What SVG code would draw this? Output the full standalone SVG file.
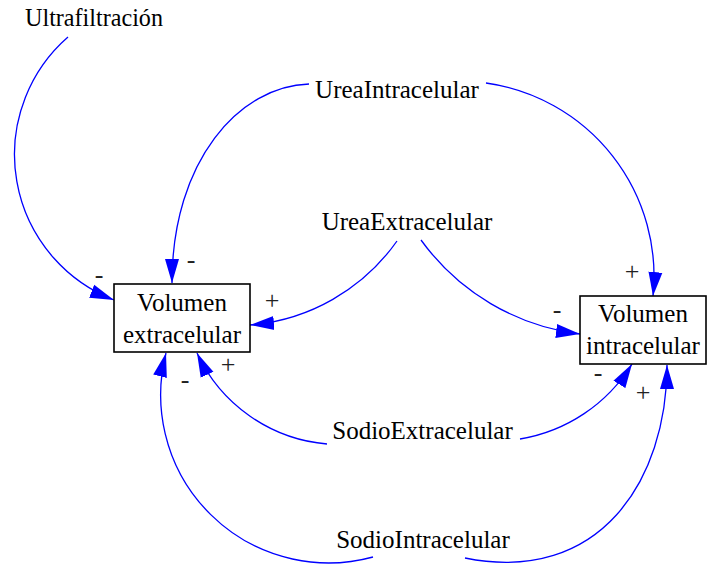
<svg xmlns="http://www.w3.org/2000/svg" width="707" height="565" viewBox="0 0 707 565">
  <style>
    .lbl { font-family: "Liberation Serif", "Times New Roman", serif; font-size: 25px; fill: #000; text-anchor: middle; }
    .sign { font-family: "Liberation Serif", "Times New Roman", serif; font-size: 26px; fill: #222; text-anchor: middle; }
    .box { fill: #fff; stroke: #000; stroke-width: 1.6; }
    .link { fill: none; stroke: #0000ff; stroke-width: 1.3; marker-end: url(#head); }
  </style>
  <defs>
    <marker id="head" markerUnits="userSpaceOnUse" markerWidth="24" markerHeight="16" viewBox="0 0 24 16" refX="24" refY="8" orient="auto">
      <path d="M0,1 L24,8 L0,15 z" fill="#0000ff"/>
    </marker>
  </defs>

  <rect width="707" height="565" fill="#fff"/>

  <!-- causal links -->
  <g id="links">
    <path class="link" d="M68,37 A156,156 0 0 0 114,300"/>
    <path class="link" d="M309,84 C240,86 172,160 172,283"/>
    <path class="link" d="M486,83 A195,195 0 0 1 653,296"/>
    <path class="link" d="M397,241 A200,200 0 0 1 250,325"/>
    <path class="link" d="M421,240 A231,231 0 0 0 580,334"/>
    <path class="link" d="M327,444 A158,158 0 0 1 197,353"/>
    <path class="link" d="M520,439 A162.5,162.5 0 0 0 632,364"/>
    <path class="link" d="M373,557 A168,168 0 0 1 166,353"/>
    <path class="link" d="M465,558 C600,585 667,480 667,365"/>
  </g>

  <!-- polarity signs -->
  <g id="signs">
    <text class="sign" x="99" y="283">-</text>
    <text class="sign" x="191" y="268">-</text>
    <text class="sign" x="272" y="309">+</text>
    <text class="sign" x="228" y="373">+</text>
    <text class="sign" x="185" y="388">-</text>
    <text class="sign" x="632" y="280">+</text>
    <text class="sign" x="557" y="318">-</text>
    <text class="sign" x="598" y="381">-</text>
    <text class="sign" x="643" y="401">+</text>
  </g>

  <!-- variables -->
  <g id="ultrafiltracion"><text class="lbl" x="94" y="26" textLength="138" lengthAdjust="spacingAndGlyphs">Ultrafiltración</text></g>
  <g id="urea-intracelular"><text class="lbl" x="397" y="98">UreaIntracelular</text></g>
  <g id="urea-extracelular"><text class="lbl" x="407" y="230">UreaExtracelular</text></g>
  <g id="sodio-extracelular"><text class="lbl" x="422.5" y="439">SodioExtracelular</text></g>
  <g id="sodio-intracelular"><text class="lbl" x="423" y="548">SodioIntracelular</text></g>

  <g id="volumen-extracelular">
    <rect class="box" x="114" y="284" width="136" height="68"/>
    <text class="lbl" x="182" y="311">Volumen</text>
    <text class="lbl" x="182" y="343">extracelular</text>
  </g>
  <g id="volumen-intracelular">
    <rect class="box" x="580" y="296" width="126" height="68"/>
    <text class="lbl" x="643" y="322">Volumen</text>
    <text class="lbl" x="643" y="354">intracelular</text>
  </g>
</svg>
